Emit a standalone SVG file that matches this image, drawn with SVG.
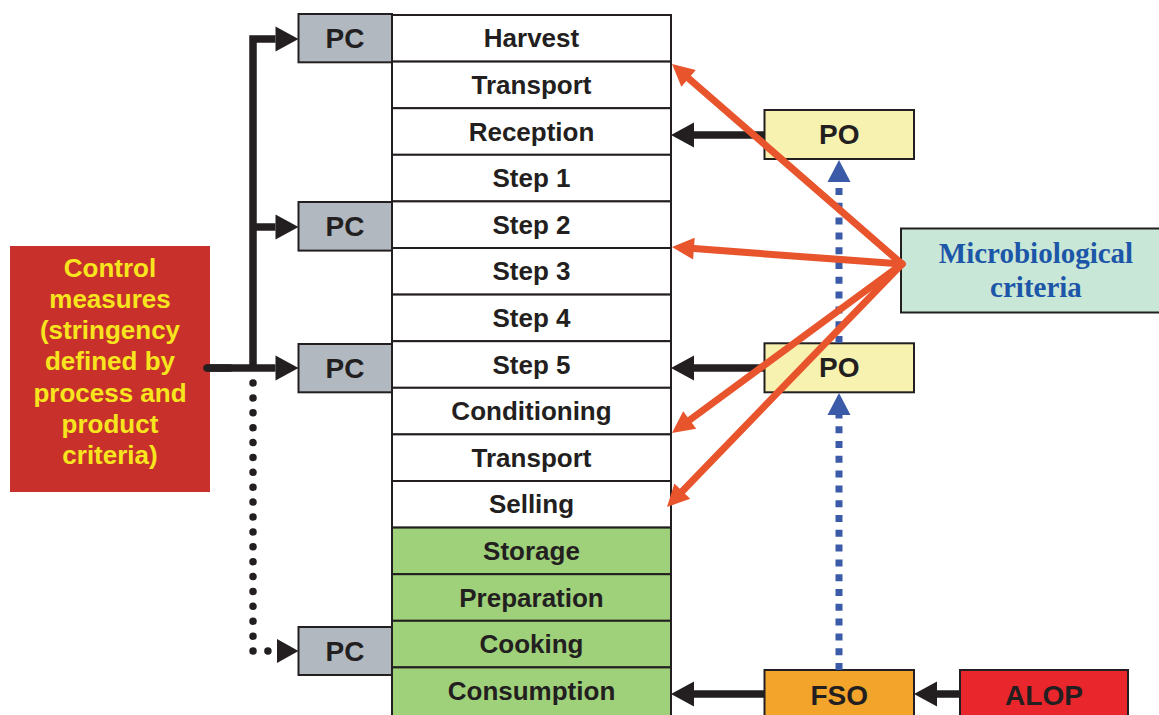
<svg xmlns="http://www.w3.org/2000/svg" width="1159" height="715" viewBox="0 0 1159 715">
  <style>
    .box { stroke: #231f20; stroke-width: 2; }
    .row { fill: #ffffff; stroke: #231f20; stroke-width: 2; }
    .row.cons { fill: #9fd07a; }
    .pc { fill: #b1b8c0; }
    .po { fill: #f7f2b0; }
    .lbl { font-family: "Liberation Sans", Arial, sans-serif; font-weight: bold; fill: #231f20; text-anchor: middle; }
    .rowlbl { font-size: 26px; }
    .big { font-size: 28px; }
    .cm { font-family: "Liberation Sans", Arial, sans-serif; font-weight: bold; font-size: 26px; fill: #f7e51e; text-anchor: middle; }
    .mc { font-family: "Liberation Serif", "Times New Roman", serif; font-weight: bold; font-size: 29px; fill: #1c56a8; text-anchor: middle; }
    .blk { fill: none; stroke: #231f20; stroke-width: 7.5; }
    .dots { fill: none; stroke: #231f20; stroke-width: 7.5; stroke-linecap: round; stroke-dasharray: 0 14.89; }
    .blue { fill: none; stroke: #3b5ba8; stroke-width: 7; stroke-dasharray: 7 7.8; }
    .red { fill: none; stroke: #e8552d; stroke-width: 7; stroke-linecap: round; }
  </style>
  <defs>
    <marker id="headBlack" markerUnits="userSpaceOnUse" markerWidth="24" markerHeight="26" refX="0" refY="12.5" orient="auto" overflow="visible">
      <path d="M0,0 L23,12.5 L0,25 z" fill="#231f20"/>
    </marker>
    <marker id="headRed" markerUnits="userSpaceOnUse" markerWidth="23" markerHeight="24" refX="0" refY="11" orient="auto" overflow="visible">
      <path d="M0,0 L22,11 L0,22 z" fill="#e8552d"/>
    </marker>
    <marker id="headBlue" markerUnits="userSpaceOnUse" markerWidth="23" markerHeight="24" refX="0" refY="11.5" orient="auto" overflow="visible">
      <path d="M0,0 L22,11.5 L0,23 z" fill="#3b5ba8"/>
    </marker>
  </defs>

  <rect width="1159" height="715" fill="#ffffff"/>

  <!-- Control measures -->
  <g id="control-measures">
    <rect x="10" y="246" width="200" height="246" fill="#c8302c"/>
    <text class="cm" x="110" y="276.5">Control</text>
    <text class="cm" x="110" y="307.8">measures</text>
    <text class="cm" x="110" y="339.1">(stringency</text>
    <text class="cm" x="110" y="370.4">defined by</text>
    <text class="cm" x="110" y="401.7">process and</text>
    <text class="cm" x="110" y="433">product</text>
    <text class="cm" x="110" y="464.3">criteria)</text>
  </g>

  <!-- Food chain steps -->
  <g id="step-harvest"><rect class="row" x="392" y="15" width="279" height="46.6"/><text class="lbl rowlbl" x="531.5" y="47.3">Harvest</text></g>
  <g id="step-transport-1"><rect class="row" x="392" y="61.6" width="279" height="46.6"/><text class="lbl rowlbl" x="531.5" y="93.9">Transport</text></g>
  <g id="step-reception"><rect class="row" x="392" y="108.2" width="279" height="46.6"/><text class="lbl rowlbl" x="531.5" y="140.5">Reception</text></g>
  <g id="step-1"><rect class="row" x="392" y="154.8" width="279" height="46.6"/><text class="lbl rowlbl" x="531.5" y="187.1">Step 1</text></g>
  <g id="step-2"><rect class="row" x="392" y="201.4" width="279" height="46.6"/><text class="lbl rowlbl" x="531.5" y="233.7">Step 2</text></g>
  <g id="step-3"><rect class="row" x="392" y="248" width="279" height="46.6"/><text class="lbl rowlbl" x="531.5" y="280.3">Step 3</text></g>
  <g id="step-4"><rect class="row" x="392" y="294.6" width="279" height="46.6"/><text class="lbl rowlbl" x="531.5" y="326.9">Step 4</text></g>
  <g id="step-5"><rect class="row" x="392" y="341.2" width="279" height="46.6"/><text class="lbl rowlbl" x="531.5" y="373.5">Step 5</text></g>
  <g id="step-conditioning"><rect class="row" x="392" y="387.8" width="279" height="46.6"/><text class="lbl rowlbl" x="531.5" y="420.1">Conditioning</text></g>
  <g id="step-transport-2"><rect class="row" x="392" y="434.4" width="279" height="46.6"/><text class="lbl rowlbl" x="531.5" y="466.7">Transport</text></g>
  <g id="step-selling"><rect class="row" x="392" y="481" width="279" height="46.6"/><text class="lbl rowlbl" x="531.5" y="513.3">Selling</text></g>
  <g id="step-storage"><rect class="row cons" x="392" y="527.6" width="279" height="46.6"/><text class="lbl rowlbl" x="531.5" y="559.9">Storage</text></g>
  <g id="step-preparation"><rect class="row cons" x="392" y="574.2" width="279" height="46.6"/><text class="lbl rowlbl" x="531.5" y="606.5">Preparation</text></g>
  <g id="step-cooking"><rect class="row cons" x="392" y="620.8" width="279" height="46.6"/><text class="lbl rowlbl" x="531.5" y="653.1">Cooking</text></g>
  <g id="step-consumption"><rect class="row cons" x="392" y="667.4" width="279" height="50"/><text class="lbl rowlbl" x="531.5" y="700">Consumption</text></g>

  <!-- Performance criteria -->
  <g id="pc-1"><rect class="box pc" x="298.5" y="14" width="93.5" height="48.3"/><text class="lbl big" x="345" y="48.3">PC</text></g>
  <g id="pc-2"><rect class="box pc" x="298.5" y="202" width="93.5" height="48.6"/><text class="lbl big" x="345" y="236.3">PC</text></g>
  <g id="pc-3"><rect class="box pc" x="298.5" y="344" width="93.5" height="48.3"/><text class="lbl big" x="345" y="378.3">PC</text></g>
  <g id="pc-4"><rect class="box pc" x="298.5" y="627" width="93.5" height="48"/><text class="lbl big" x="345" y="661">PC</text></g>

  <!-- Performance objectives and targets -->
  <g id="po-1"><rect class="box po" x="764.5" y="110" width="149.5" height="49"/><text class="lbl big" x="839.3" y="144.3">PO</text></g>
  <g id="po-2"><rect class="box po" x="764.5" y="343.3" width="149.5" height="49"/><text class="lbl big" x="839.3" y="377">PO</text></g>
  <g id="fso"><rect class="box" x="764.5" y="670" width="149.5" height="50" fill="#f3a42b"/><text class="lbl big" x="839.3" y="704.5">FSO</text></g>
  <g id="alop"><rect class="box" x="960" y="670" width="168" height="50" fill="#e8262b"/><text class="lbl big" x="1044" y="704.5">ALOP</text></g>
  <g id="micro-criteria"><rect class="box" x="901" y="228.5" width="265" height="84" fill="#c9e7d6"/><text class="mc" x="1036" y="262.7">Microbiological</text><text class="mc" x="1036" y="297">criteria</text></g>

  <!-- Connectors -->
  <g id="connectors">
    <!-- control measures to performance criteria -->
    <path class="blk" d="M253,368 V39 H275.5" stroke-linejoin="miter" marker-end="url(#headBlack)"/>
    <path class="blk" d="M253,227 H275.5" marker-end="url(#headBlack)"/>
    <path class="blk" d="M207,368 H275.5" marker-end="url(#headBlack)"/>
    <path class="blk" d="M207,368 H230" stroke-linecap="round"/>
    <path class="dots" d="M253,383 V651 H268"/>
    <polygon points="277,639 298.5,651 277,663" fill="#231f20"/>

    <!-- objectives to steps -->
    <path class="blk" d="M764,135 H694" marker-end="url(#headBlack)"/>
    <path class="blk" d="M764,368 H694" marker-end="url(#headBlack)"/>
    <path class="blk" d="M764,694 H694" marker-end="url(#headBlack)"/>
    <path class="blk" d="M960,694 H937" marker-end="url(#headBlack)"/>

    <!-- FSO to PO, PO to PO -->
    <path class="blue" d="M839,670 V415" marker-end="url(#headBlue)"/>
    <path class="blue" d="M839,343 V182" marker-end="url(#headBlue)"/>

    <!-- microbiological criteria -->
    <path class="red" d="M902,264 L688.6,78.4" marker-end="url(#headRed)"/>
    <path class="red" d="M902,264 L693.9,248.6" marker-end="url(#headRed)"/>
    <path class="red" d="M902,264 L689.7,420" marker-end="url(#headRed)"/>
    <path class="red" d="M902,264 L682.3,491.2" marker-end="url(#headRed)"/>
  </g>
</svg>
